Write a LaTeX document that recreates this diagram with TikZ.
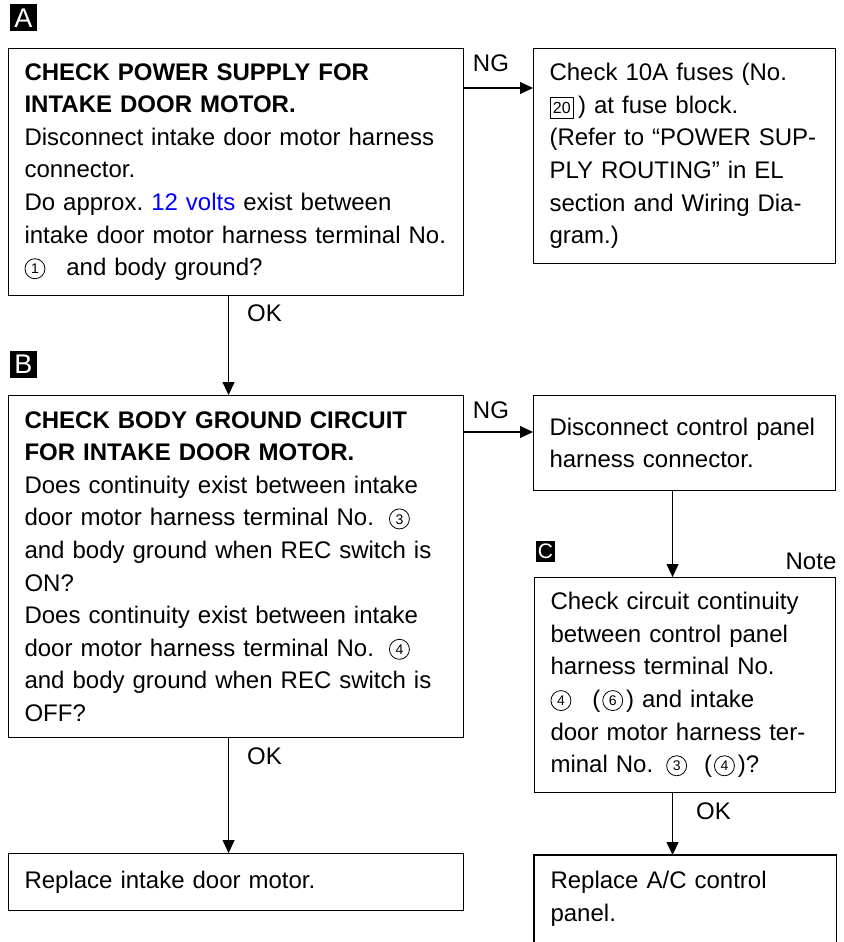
\documentclass[tikz,border=0pt]{standalone}
\usepackage{fontspec}
\setmainfont{Liberation Sans}
\usetikzlibrary{arrows.meta,positioning}

\tikzset{
  stepbox/.style={
    draw, line width=1.1pt, anchor=north west, align=left,
    inner xsep=16pt, inner ysep=0pt,
    font=\fontsize{24}{32.6}\selectfont\frenchspacing
  },
  flow/.style={line width=1.1pt, -{Triangle[length=13pt,width=12pt]}},
  branch/.style={inner sep=0pt, font=\fontsize{24}{24}\selectfont},
  steptag/.style={
    fill=black, text=white, inner sep=0pt,
    minimum width=27pt, minimum height=27pt,
    font=\fontsize{27}{27}\selectfont
  }
}
% circled terminal number and boxed fuse number, set inline
\newcommand{\circnum}[1]{%
  \tikz[x=1pt,y=1pt,baseline=-7pt]\draw[line width=0.8pt] (0,0) circle[radius=10pt];%
  \hspace{-20.8pt}\makebox[20.8pt]{\raisebox{1.8pt}{\fontsize{14}{14}\selectfont #1}}}
\newcommand{\boxnum}[1]{\tikz[x=1pt,y=1pt,baseline=(b.base)]
  \node[draw, line width=0.8pt, inner xsep=3pt, inner ysep=0pt, minimum height=21pt,
    minimum width=0pt, text width={}, anchor=center, font=\fontsize{16}{16}\selectfont] (b) {#1};}

\begin{document}
\begin{tikzpicture}[x=1pt,y=-1pt]
  \useasboundingbox (0,0) rectangle (843,942);

  \node[steptag] (tagA) at (23.5,18) {A};
  \node[steptag] (tagB) at (23.5,364) {B};
  \node[steptag, minimum width=19pt, minimum height=21pt,
    font=\fontsize{21}{21}\selectfont] (tagC) at (545.5,551.5) {C};
  \node[branch] (note) at (811,561) {Note};

  % left column
  \node[stepbox, text width=423pt, minimum height=247pt] (checkA) at (8,48)
    {\textbf{CHECK POWER SUPPLY FOR}\\
     \textbf{INTAKE DOOR MOTOR.}\\
     Disconnect intake door motor harness\\
     connector.\\
     Do approx. \textcolor{blue}{12 volts} exist between\\
     intake door motor harness terminal No.\\
     \circnum{1}\hspace{21pt}and body ground?};
  \node[stepbox, text width=423pt, minimum height=342pt] (checkB) at (8,395)
    {\textbf{CHECK BODY GROUND CIRCUIT}\\
     \textbf{FOR INTAKE DOOR MOTOR.}\\
     Does continuity exist between intake\\
     door motor harness terminal No.\hspace{15pt}\circnum{3}\\
     and body ground when REC switch is\\
     ON?\\
     Does continuity exist between intake\\
     door motor harness terminal No.\hspace{15pt}\circnum{4}\\
     and body ground when REC switch is\\
     OFF?};
  \node[stepbox, text width=423pt, minimum height=57pt] (motor) at (8,853)
    {Replace intake door motor.};

  % right column
  \node[stepbox, text width=270pt, minimum height=215pt] (fuse) at (533,48)
    {Check 10A fuses (No.\\
     \boxnum{20}\,) at fuse block.\\
     (Refer to “POWER SUP-\\
     PLY ROUTING” in EL\\
     section and Wiring Dia-\\
     gram.)};
  \node[stepbox, text width=270pt, minimum height=95pt] (disc) at (533,395)
    {Disconnect control panel\\
     harness connector.};
  \node[stepbox, text width=269pt, minimum height=215pt] (checkC) at (534,577)
    {Check circuit continuity\\
     between control panel\\
     harness terminal No.\\
     \circnum{4}\hspace{21pt}(\hspace{2pt}\circnum{6}\hspace{3pt}) and intake\\
     door motor harness ter-\\
     minal No.\hspace{13pt}\circnum{3}\hspace{17pt}(\hspace{2pt}\circnum{4}\hspace{3pt})?};
  \node[stepbox, draw=none, text width=269pt, minimum height=87pt] (panel) at (534,855)
    {Replace A/C control\\
     panel.};
  % this box runs on past the bottom edge
  \draw[line width=1.1pt] (panel.north west |- 0,942) -- (panel.north west)
    -- (panel.north east) -- (panel.north east |- 0,942);

  % connectors
  \draw[flow] ([yshift=-40pt]checkA.north east) -- ([yshift=-40pt]fuse.north west)
    node[branch, pos=.39, above=16pt] (ngA) {NG};
  \draw[flow] ([xshift=-7.5pt]checkA.south) -- ([xshift=-7.5pt]checkB.north)
    node[branch, pos=.17, anchor=west, xshift=18pt] (okA) {OK};
  \draw[flow] ([yshift=-37pt]checkB.north east) -- ([yshift=-37pt]disc.north west)
    node[branch, pos=.39, above=13pt] (ngB) {NG};
  \draw[flow] ([xshift=-7.5pt]checkB.south) -- ([xshift=-7.5pt]motor.north)
    node[branch, pos=.16, anchor=west, xshift=18pt] (okB) {OK};
  \draw[flow] ([xshift=-12pt]disc.south) -- ([xshift=-12pt]disc.south |- checkC.north);
  \draw[flow] ([xshift=-12.5pt]checkC.south) -- ([xshift=-12.5pt]checkC.south |- panel.north)
    node[branch, pos=.29, anchor=west, xshift=23pt] (okC) {OK};
\end{tikzpicture}
\end{document}
